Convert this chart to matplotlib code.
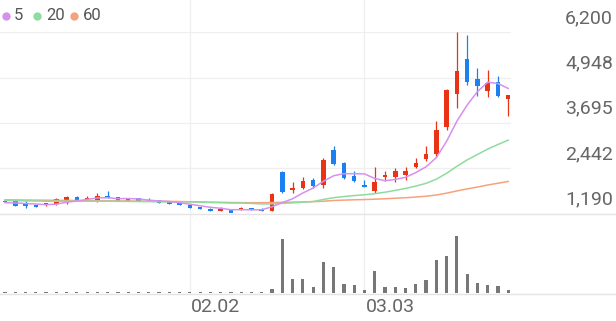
import matplotlib
matplotlib.use("Agg")
import matplotlib.pyplot as plt
import matplotlib.transforms as mtransforms
from matplotlib.lines import Line2D
import pandas as pd

plt.rcParams['font.family'] = ['Roboto', 'DejaVu Sans']

W, H = 616, 321

# daily candles, oldest first
opens = [1500, 1545, 1450, 1420, 1413, 1450, 1524, 1654, 1560, 1560,
         1671, 1643, 1524, 1607, 1571, 1552, 1516, 1477, 1413, 1358,
         1322, 1267, 1284, 1275, 1339, 1322, 1247, 2346, 1829, 1884,
         2114, 1986, 2955, 2576, 2236, 1959, 1820, 2197, 2189, 2252,
         2465, 2687, 2834, 3572, 4494, 5463, 4909, 4588, 4837, 4356]
highs = [1515, 1550, 1525, 1425, 1475, 1615, 1660, 1670, 1663, 1746,
         1820, 1650, 1585, 1612, 1615, 1557, 1520, 1482, 1420, 1363,
         1327, 1358, 1290, 1355, 1345, 1327, 1742, 2363, 2070, 2208,
         2161, 2720, 3066, 2612, 2374, 2114, 2465, 2355, 2438, 2465,
         2723, 3055, 3758, 4638, 6200, 6117, 5225, 5150, 4984, 4467]
lows = [1495, 1385, 1340, 1370, 1405, 1433, 1450, 1545, 1555, 1515,
        1600, 1520, 1520, 1538, 1520, 1472, 1455, 1408, 1333, 1298,
        1262, 1262, 1206, 1270, 1280, 1262, 1240, 1754, 1754, 1865,
        1884, 1892, 2540, 2147, 2058, 1915, 1754, 2078, 2050, 2114,
        2452, 2631, 2742, 3509, 4107, 4754, 4450, 4422, 4417, 3896]
closes = [1510, 1390, 1394, 1377, 1469, 1588, 1654, 1560, 1600, 1682,
          1607, 1524, 1580, 1543, 1524, 1477, 1460, 1413, 1339, 1303,
          1267, 1322, 1212, 1350, 1284, 1267, 1737, 1793, 1884, 2078,
          1948, 2678, 2557, 2170, 2078, 1920, 2050, 2236, 2355, 2363,
          2584, 2845, 3509, 4616, 5142, 4818, 4707, 4810, 4430, 4467]
# volume, thousand shares
volumes = [100, 100, 100, 100, 150, 160, 100, 100, 130, 180,
           130, 100, 100, 100, 100, 100, 100, 100, 100, 100,
           100, 100, 100, 100, 110, 110, 430, 5430, 1400, 1400,
           630, 3170, 2630, 900, 800, 370, 2230, 630, 630, 570,
           900, 1330, 3330, 3700, 5770, 1970, 1000, 800, 700, 370]

# moving averages before enough candles are on screen
ma5_head = [1483, 1475, 1461, 1447]
ma20_head = [1544, 1541, 1535, 1530, 1524, 1524, 1524, 1524, 1524, 1524,
             1524, 1521, 1519, 1516, 1513, 1510, 1508, 1508, 1505]
ma60 = [1563, 1560, 1557, 1555, 1552, 1549, 1546, 1544, 1541, 1538,
        1535, 1533, 1530, 1527, 1524, 1522, 1519, 1516, 1510, 1505,
        1499, 1494, 1488, 1485, 1483, 1483, 1488, 1494, 1499, 1505,
        1513, 1524, 1544, 1555, 1564, 1571, 1581, 1593, 1607, 1621,
        1640, 1663, 1696, 1748, 1809, 1865, 1917, 1973, 2022, 2072]

price_ticks = [1190, 2442, 3695, 4948, 6200]
date_idx = [18, 35]
date_labels = ["02.02", "03.03"]

ma_names = ["5", "20", "60"]
ma_colors = ["#d690ef", "#8fdba0", "#f7a27c"]
RED, BLUE = "#ea3214", "#1d80f0"
TXT = "#666666"

df = pd.DataFrame({"open": opens, "high": highs, "low": lows,
                   "close": closes, "vol": volumes})
ma5 = df["close"].rolling(5).mean()
ma5.iloc[:4] = ma5_head
ma20 = df["close"].rolling(20).mean()
ma20.iloc[:19] = ma20_head
idx = df.index.values
up = df["close"] >= df["open"]
colors = [RED if u else BLUE for u in up]


def px_rect(x0, y0, x1, y1):
    return [x0 / W, 1 - y1 / H, (x1 - x0) / W, (y1 - y0) / H]


fig = plt.figure(figsize=(W / 100, H / 100), dpi=100)
ax = fig.add_axes(px_rect(0, 32.3, 511, 213.3))
axv = fig.add_axes(px_rect(0, 222, 511, 293.3))
xlim = (-5 / 10.27, (511 - 5) / 10.27)

# price panel
for v in price_ticks[1:]:
    ax.axhline(v, color="#efefef", lw=0.9, zorder=0)
body = (df["close"] - df["open"]).abs().clip(lower=40)
bottom = df[["open", "close"]].min(axis=1)
ax.vlines(idx, df["low"], df["high"], colors=colors, lw=0.9, zorder=3)
ax.bar(idx, body, bottom=bottom, width=0.44, color=colors, zorder=3)
ax.plot(idx, ma60, color=ma_colors[2], lw=1.1, zorder=4)
ax.plot(idx, ma20, color=ma_colors[1], lw=1.1, zorder=4)
ax.plot(idx, ma5, color=ma_colors[0], lw=1.1, zorder=4)
ax.set_xlim(*xlim)
ax.set_ylim(price_ticks[0], price_ticks[-1])
ax.axis("off")

for v in price_ticks:
    ax.annotate(f"{v:,}", xy=(613 / W, v), xycoords=("figure fraction", "data"),
                xytext=(0, 14), textcoords="offset pixels", ha="right",
                va="center", fontsize=14, color=TXT, annotation_clip=False)

# volume panel
axv.bar(idx, df["vol"], width=0.31, color="#777777")
axv.set_xlim(*xlim)
axv.set_ylim(0, df["vol"].max() * 71.3 / 57.7)
axv.axis("off")

# separators and date grid
for ypx in (213.8, 293.6):
    fig.add_artist(Line2D([0, 1], [1 - ypx / H] * 2, transform=fig.transFigure,
                          color="#e4e4e4", lw=1))
trans = mtransforms.blended_transform_factory(ax.transData, fig.transFigure)
for i, lab in zip(date_idx, date_labels):
    fig.add_artist(Line2D([i, i], [1 - 293 / H, 1], transform=trans,
                          color="#efefef", lw=0.9, zorder=0))
    ax.annotate(lab, xy=(i, 1 - 307 / H), xycoords=("data", "figure fraction"),
                xytext=(1, 0), textcoords="offset pixels", ha="left",
                va="center", fontsize=14, color=TXT, annotation_clip=False)

# legend
lg = fig.add_axes([0, 0, 1, 1])
lg.set_xlim(0, W)
lg.set_ylim(H, 0)
lg.axis("off")
for x, name, c in zip([5.7, 37.3, 74], ma_names, ma_colors):
    lg.plot([x], [15.7], "o", ms=6, color=c, mec="none")
    lg.text(x + 8.5, 15.7, name, ha="left", va="center", fontsize=12, color="#555555")

fig.savefig("out.png", dpi=100)
